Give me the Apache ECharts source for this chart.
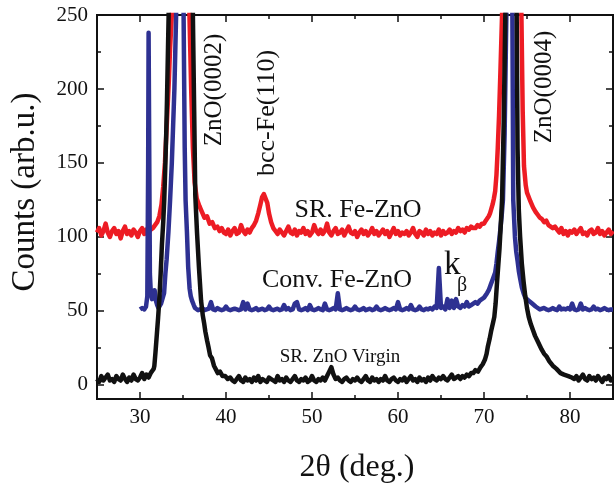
<!DOCTYPE html>
<html>
<head>
<meta charset="utf-8">
<script src="https://cdn.jsdelivr.net/npm/echarts@6/dist/echarts.min.js"></script>
<style>
html,body{margin:0;padding:0;background:#fff;}
#chart{width:614px;height:484px;}
</style>
</head>
<body>
<div id="chart"></div>
<script>
// ---------- axis ticks ----------
const xMajorTicks = [30, 40, 50, 60, 70, 80];
const xMinorTicks = [35, 45, 55, 65, 75];
const yMajorTicks = [0, 50, 100, 150, 200, 250];
const yMinorTicks = [25, 75, 125, 175, 225];

// ---------- SR. Fe-ZnO (red) ----------
const STEP = 0.25;
const redBaseAStart = 25.0;
const redBaseA = [103,106,101,104,109,103,100,104,106,102,104,99,104,107,102,104,101,105,103,100,104,106,102,105,103];
const redPeak1 = [[31.25,105],[31.5,106],[31.75,108],[32.0,110],[32.25,114],[32.5,122],[32.7,134],[32.9,150],[33.14,179],[33.35,205],[33.5,228],[33.7,250],[34.7,700],[35.75,250],[35.95,200],[36.15,160],[36.35,137],[36.6,126],[36.9,121],[37.2,117],[37.5,113],[37.8,114],[38.1,109],[38.4,110],[38.7,106],[39.0,107],[39.25,104]];
const redBaseBStart = 39.5;
const redBaseB = [106,103,102,105,101,104,106,102,103,108,104,102,105,103,106];
const redFe = [[43.25,108],[43.5,111],[43.75,116],[44.0,122],[44.2,127],[44.4,129],[44.6,128],[44.8,123],[45.0,116],[45.25,110],[45.5,106],[45.75,104]];
const redBaseCStart = 46.0;
const redBaseC = [102,105,103,101,104,107,103,102,105,101,104,103,106,102,104,101,103,108,104,102,
  105,102,104,109,103,101,104,106,102,103,105,101,104,107,103,102,104,100,103,105,
  102,104,101,103,106,102,104,101,103,105,102,104,100,103,106,102,104,101,103,102,
  104,101,103,106,102,100,104,103,101,105,102,104,101,103,102,105,101,104,102,103,
  105,102,104,103,106,104,105,103,106,105,107];
const redPeak2 = [[68.75,106],[69.0,106],[69.25,108],[69.5,107],[69.75,109],[70.0,109],[70.2,111],[70.4,112],[70.55,114],[70.7,116],[70.85,119],[71.0,122],[71.15,126],[71.3,131],[71.45,142],[71.6,160],[71.75,182],[71.9,210],[72.1,250],[73.2,700],[74.35,250],[74.5,185],[74.65,148],[74.85,135],[75.0,130],[75.2,127],[75.4,124],[75.7,120],[76.0,117],[76.25,115],[76.5,113],[76.75,112],[77.0,110],[77.25,111],[77.5,108],[77.75,107],[78.0,106],[78.25,107]];
const redBaseDStart = 78.5;
const redBaseD = [105,103,106,102,104,101,104,103,105,102,104,106,102,103,101,104,105,102,103,106,102,104,101,103,105,102,104];

// ---------- Conv. Fe-ZnO (blue) ----------
const bluePeak1 = [[30.0,51],[30.25,52],[30.5,51],[30.7,53],[30.85,60],[30.95,150],[31.0,238],[31.08,150],[31.15,75],[31.25,63],[31.4,58],[31.55,62],[31.7,64],[31.85,57],[32.0,54],[32.15,52],[32.3,53],[32.45,55],[32.6,58],[32.8,62],[32.95,75],[33.1,85],[33.3,103],[33.5,125],[33.7,150],[33.85,175],[34.0,200],[34.2,250],[34.65,800],[35.07,250],[35.2,160],[35.3,125],[35.46,103],[35.6,80],[35.77,65],[35.9,60],[36.05,57],[36.25,54],[36.4,52]];
const blueBaseAStart = 36.5;
const blueBaseA = [51,50.5,51,52,50.5,51,51.5,56,51,50.5,
  52,51,50.5,51,53,51,50.5,51,51.5,51,
  50.5,51,56,51,55,51,50.5,51,52,50.5,
  51,51.5,50.5,51,53,51,50.5,51,51.5,50.5,
  51,54,51,52,50.5,51,55,56,51,50.5,
  51,52,50.5,54,51,50.5,51,52,51,50.5,
  55,51,50.5,51,52,51,62,51,50.5,51,
  52,51,50.5,51,53,51,50.5,51,52,50.5,
  51,51.5,50.5,51,53,51,50.5,51,52,51,
  50.5,51,52,51,56,51,50.5,51,52,51,
  54,51,50.5,51,53,51,50.5,51.5,51,52,
  51,53,52,79,52,53,51,58,52,57,
  52,58,53,52,54,53,56,53,54,55];
const bluePeak2 = [[69.0,56],[69.25,55],[69.5,57],[69.75,58],[70.0,59],[70.2,60],[70.35,62],[70.55,64],[70.8,68],[71.05,72],[71.3,76],[71.45,82],[71.6,90],[71.75,97],[71.9,105],[72.05,114],[72.2,125],[72.4,170],[72.6,250],[72.95,800],[73.3,250],[73.4,125],[73.6,100],[73.75,90],[73.9,84],[74.05,77],[74.2,72],[74.4,66],[74.6,62],[74.8,59],[75.0,58],[75.2,57],[75.4,57],[75.6,55],[75.8,54],[76.0,53]];
const blueBaseBStart = 76.25;
const blueBaseB = [52,51,51.5,52,51,50.5,51,52,51,50.5,53,51,51.5,51,52,51,55,51,50.5,51,55,51,52,51,50.5,51,53,51,51.5,50.5,51,52,51,50.5,51,51];

// ---------- SR. ZnO Virgin (black) ----------
const blackBaseAStart = 25.0;
const blackBaseA = [4,2,6,3,5,7,3,4,2,6,4,3,7,4,2,5,3,7,4,3,5,8,4,7,5,8];
const blackPeak1 = [[31.45,9],[31.6,11],[31.67,13],[31.8,22],[31.97,35],[32.1,45],[32.24,57],[32.4,75],[32.55,95],[32.7,110],[32.82,125],[32.94,147],[33.05,170],[33.14,193],[33.33,250],[34.6,1000],[35.9,400],[36.15,250],[36.3,185],[36.43,128],[36.63,103],[36.85,80],[37.1,57],[37.3,47],[37.45,42],[37.6,36],[37.8,30],[37.95,26],[38.15,20],[38.37,18],[38.6,13],[38.8,12],[39.05,8],[39.3,9],[39.6,6],[39.9,6],[40.2,4]];
const blackBaseBStart = 40.5;
const blackBaseB = [5,3,2,4,6,3,2,5,3,4,
  2,5,3,6,2,4,3,2,5,4,
  3,2,6,3,4,2,5,3,2,4,
  6,3,2,4,3,5,2,3,6,3,
  2,4,3,5,3,6,9,12,7,4,
  5,3,2,4,5,3,2,4,3,5,
  3,2,4,6,3,2,5,3,4,2,
  4,3,6,3,2,4,5,3,2,4,
  3,5,2,4,6,3,4,2,5,3,
  4,2,5,3,6,4,3,5,4,6,
  4,3,5,7,4,5,6,4,6,5,
  7,6,8];
const blackPeak2 = [[68.75,8],[69.0,10],[69.3,9],[69.6,12],[69.85,14],[70.1,17],[70.3,21],[70.45,26],[70.65,31],[70.85,37],[71.05,42],[71.2,46],[71.35,55],[71.5,68],[71.65,80],[71.8,92],[71.95,108],[72.1,125],[72.3,180],[72.48,250],[73.15,1000],[73.8,250],[73.9,160],[74.05,118],[74.2,100],[74.4,82],[74.6,70],[74.8,60],[75.0,52],[75.2,46],[75.45,41],[75.7,37],[75.95,33],[76.2,30],[76.45,27],[76.7,24],[77.0,21],[77.3,19],[77.6,16],[78.0,13],[78.4,11],[78.9,8],[79.3,7],[79.8,6],[80.2,5]];
const blackBaseCStart = 80.5;
const blackBaseC = [4,6,3,5,7,4,3,6,4,5,3,6,4,2,5,4,6,3,5];

// ---------- build ----------
function seg(start, ys) { return ys.map((y, i) => [start + i * STEP, y]); }
const redData = [].concat(seg(redBaseAStart, redBaseA), redPeak1, seg(redBaseBStart, redBaseB), redFe, seg(redBaseCStart, redBaseC), redPeak2, seg(redBaseDStart, redBaseD));
const blueData = [].concat(bluePeak1, seg(blueBaseAStart, blueBaseA), bluePeak2, seg(blueBaseBStart, blueBaseB));
const blackData = [].concat(seg(blackBaseAStart, blackBaseA), blackPeak1, seg(blackBaseBStart, blackBaseB), blackPeak2, seg(blackBaseCStart, blackBaseC));

const FONT = '"Liberation Serif", "Times New Roman", serif';
const AX = '#111';
function xAx(pos, ticks, len, labels) {
  return {
    type: 'value', position: pos, min: 25, max: 85,
    axisLine: { show: true, onZero: false, lineStyle: { color: AX, width: 2 } },
    axisTick: { show: true, inside: true, length: len, lineStyle: { color: AX, width: 1.5 }, customValues: ticks },
    axisLabel: labels ? { show: true, customValues: ticks, color: '#111', fontFamily: FONT, fontSize: 21, margin: 8 } : { show: false },
    splitLine: { show: false }
  };
}
function yAx(pos, ticks, len, labels) {
  return {
    type: 'value', position: pos, min: -9.5, max: 250,
    axisLine: { show: true, onZero: false, lineStyle: { color: AX, width: 2 } },
    axisTick: { show: true, inside: true, length: len, lineStyle: { color: AX, width: 1.5 }, customValues: ticks },
    axisLabel: labels ? { show: true, customValues: ticks, color: '#111', fontFamily: FONT, fontSize: 21, margin: 9 } : { show: false },
    splitLine: { show: false }
  };
}

const chart = echarts.init(document.getElementById('chart'), null, { renderer: 'canvas' });
const txt = (t, x, y, size, opts) => Object.assign({
  type: 'text', x: x, y: y,
  style: { text: t, font: size + 'px ' + FONT, fill: '#111', align: 'center', verticalAlign: 'middle' }
}, opts || {});

const LW = 4.5;
chart.setOption({
  animation: false,
  backgroundColor: '#fff',
  grid: { left: 97, right: 1, top: 15, bottom: 85, containLabel: false },
  xAxis: [
    xAx('bottom', xMajorTicks, 7, true),
    xAx('bottom', xMinorTicks, 4, false),
    xAx('top', xMajorTicks, 7, false),
    xAx('top', xMinorTicks, 4, false)
  ],
  yAxis: [
    yAx('left', yMajorTicks, 7, true),
    yAx('left', yMinorTicks, 4, false),
    yAx('right', yMajorTicks, 7, false),
    yAx('right', yMinorTicks, 4, false)
  ],
  series: [
    { name: 'SR. Fe-ZnO', type: 'line', data: redData, showSymbol: false, clip: true, lineStyle: { color: '#ed1c24', width: LW, join: 'round' }, z: 2 },
    { name: 'Conv. Fe-ZnO', type: 'line', data: blueData, showSymbol: false, clip: true, lineStyle: { color: '#2e3192', width: LW, join: 'round' }, z: 3 },
    { name: 'SR. ZnO Virgin', type: 'line', data: blackData, showSymbol: false, clip: true, lineStyle: { color: '#111111', width: LW, join: 'round' }, z: 4 }
  ],
  graphic: [
    txt('Counts (arb.u.)', 25, 192, 33, { rotation: Math.PI / 2 }),
    txt('2θ (deg.)', 357, 468, 32),
    txt('ZnO(0002)', 214, 90, 25, { rotation: Math.PI / 2 }),
    txt('bcc-Fe(110)', 267, 113, 26, { rotation: Math.PI / 2 }),
    txt('ZnO(0004)', 544, 87, 25, { rotation: Math.PI / 2 }),
    txt('SR. Fe-ZnO', 358, 210, 26),
    txt('Conv. Fe-ZnO', 337, 280, 26),
    txt('SR. ZnO Virgin', 340, 357, 19),
    { type: 'text', x: 444, y: 265, style: { text: 'k', font: '33px ' + FONT, fill: '#111', align: 'left', verticalAlign: 'middle' } },
    { type: 'text', x: 457, y: 286, style: { text: 'β', font: '20px ' + FONT, fill: '#111', align: 'left', verticalAlign: 'middle' } }
  ]
});
</script>
</body>
</html>
